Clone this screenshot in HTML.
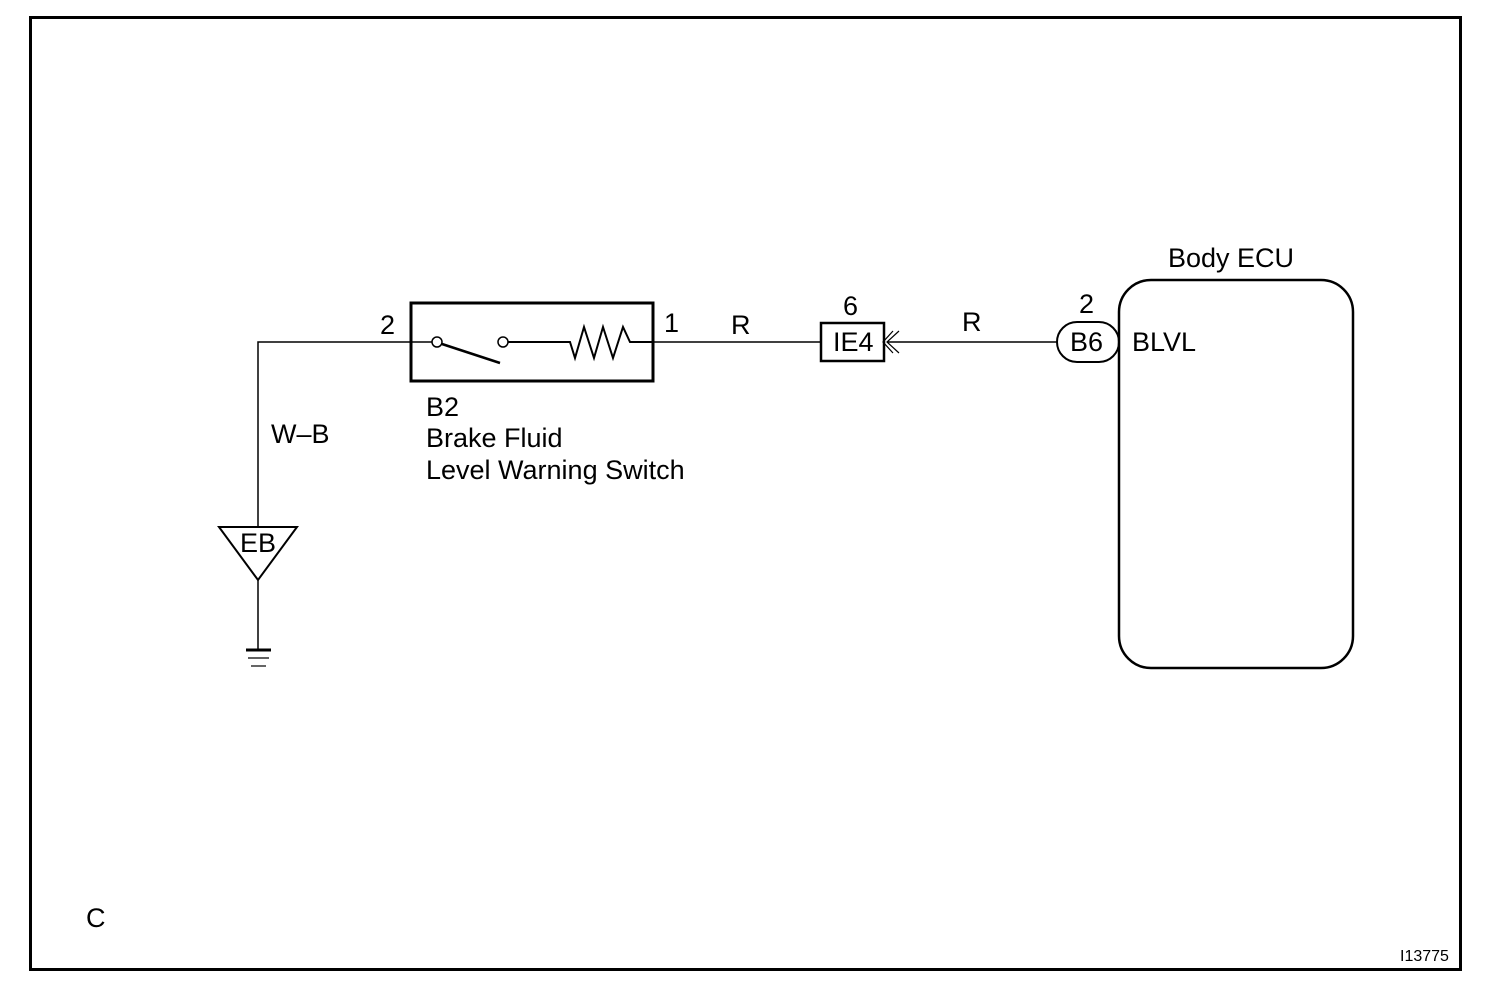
<!DOCTYPE html>
<html><head><meta charset="utf-8"><style>
html,body{margin:0;padding:0;background:#fff;}
svg{display:block;}
text{font-family:"Liberation Sans",Arial,sans-serif;fill:#000;}
</style></head><body>
<svg width="1504" height="990" viewBox="0 0 1504 990" xmlns="http://www.w3.org/2000/svg">
<rect x="0" y="0" width="1504" height="990" fill="#fff"/>
<rect x="30.5" y="17.5" width="1430" height="952" fill="none" stroke="#000" stroke-width="3"/>
<g fill="none" stroke="#000">
<polyline points="411,342 258,342 258,527" stroke-width="1.5"/>
<polygon points="219,527 297,527 258,580" stroke-width="2"/>
<line x1="258" y1="580" x2="258" y2="650" stroke-width="1.5"/>
<line x1="246" y1="650" x2="271" y2="650" stroke-width="3"/>
<line x1="248" y1="658" x2="269" y2="658" stroke-width="1.2"/>
<line x1="251" y1="666" x2="266" y2="666" stroke-width="1.2"/>
<rect x="411" y="303" width="242" height="78" stroke-width="3"/>
<line x1="411" y1="342" x2="432" y2="342" stroke-width="1.5"/>
<circle cx="437" cy="342" r="5" stroke-width="1.5"/>
<line x1="442" y1="344" x2="500" y2="363" stroke-width="2.5"/>
<circle cx="503" cy="342" r="5" stroke-width="1.5"/>
<polyline points="508,342 570,342 575,358 584,327 594,358 603,327 613,358 623,327 630,342 653,342" stroke-width="2"/>
<line x1="653" y1="342" x2="820" y2="342" stroke-width="1.5"/>
<rect x="821" y="323" width="63" height="38" stroke-width="2.5"/>
<polyline points="899,331 887,342 899,353" stroke-width="1.2"/>
<polyline points="893,331 883,342 893,353" stroke-width="1.2"/>
<line x1="887" y1="342" x2="1058" y2="342" stroke-width="1.5"/>
<rect x="1057" y="322" width="62" height="40" rx="20" ry="20" stroke-width="2"/>
<rect x="1119" y="280" width="234" height="388" rx="32" ry="32" stroke-width="2.5"/>
</g>
<g font-size="27">
<text x="380" y="334">2</text>
<text x="664" y="332">1</text>
<text x="731" y="334">R</text>
<text x="843" y="315">6</text>
<text x="962" y="331">R</text>
<text x="1079" y="313">2</text>
<text x="833" y="351">IE4</text>
<text x="1070" y="351">B6</text>
<text x="1132" y="351">BLVL</text>
<text x="1168" y="267">Body ECU</text>
<text x="426" y="416">B2</text>
<text x="426" y="447">Brake Fluid</text>
<text x="426" y="479">Level Warning Switch</text>
<text x="271" y="443">W–B</text>
<text x="240" y="552">EB</text>
<text x="86" y="927">C</text>
</g>
<text x="1400" y="961" font-size="16">I13775</text>
</svg>
</body></html>
